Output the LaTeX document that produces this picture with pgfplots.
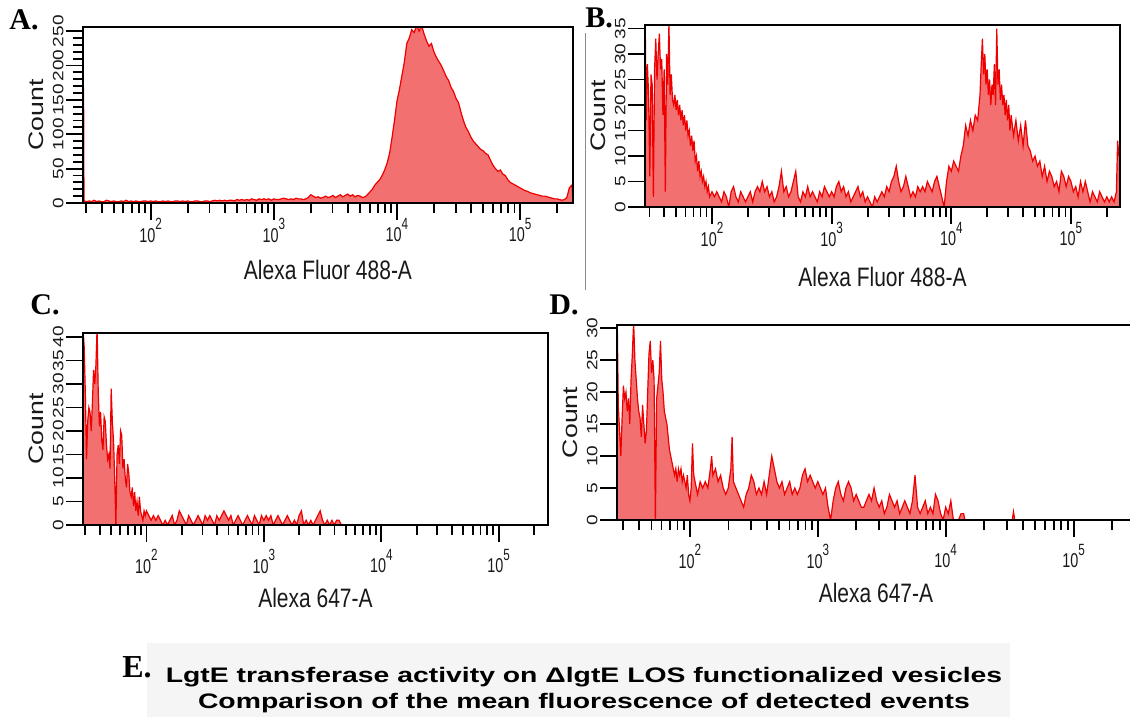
\documentclass[border=0pt]{standalone}
\usepackage{fontspec}
\setmainfont{Liberation Sans}
\newfontfamily\serifbold{Liberation Serif}
\usepackage{graphicx}
\usepackage{pgfplots}
\pgfplotsset{compat=1.18}

\definecolor{fillred}{RGB}{242,112,112}
\definecolor{linered}{RGB}{238,0,0}
\definecolor{axtext}{RGB}{25,25,25}

\newcommand{\vs}[1]{\scalebox{1}[1.27]{#1}}
\newcommand{\hs}[1]{\scalebox{1.27}[1]{#1}}
\newcommand{\tenp}[1]{\scalebox{0.9}[1.25]{10\raisebox{0.62em}{\fontsize{6.5}{7}\selectfont #1}}}

\pgfplotsset{
 flow/.style={
  scale only axis,
  axis on top,
  axis line style={black, line width=1.2pt},
  tick align=outside,
  xtick pos=bottom, ytick pos=left,
  major tick length=8.5pt, minor tick length=5pt,
  tick style={black, line width=0.9pt},
  xtick={2,3,4,5},
  xticklabels={\tenp{2},\tenp{3},\tenp{4},\tenp{5}},
  minor xtick={1.477,1.602,1.699,1.778,1.845,1.903,1.954,2.301,2.477,2.602,2.699,2.778,2.845,2.903,2.954,3.301,3.477,3.602,3.699,3.778,3.845,3.903,3.954,4.301,4.477,4.602,4.699,4.778,4.845,4.903,4.954,5.301,5.477},
  ymin=0,
  xticklabel style={font=\fontsize{8}{8}\selectfont, text=axtext, inner sep=0pt},
  xticklabel shift=-1pt,
  yticklabel style={font=\fontsize{7.5}{8}\selectfont, text=axtext, rotate=90, anchor=south, inner sep=1pt},
  yticklabel={\hs{\pgfmathprintnumber[assume math mode=true]{\tick}}},
  ylabel={\hs{Count}},
  label style={font=\fontsize{10.5}{12}\selectfont, text=axtext},
  scaled y ticks=false,
 },
 hist/.style={draw=linered, line width=0.6pt, fill=fillred},
}

\begin{document}
\begin{tikzpicture}
\useasboundingbox (0,0) rectangle (565pt,358.5pt);
\fill[black!4] (73.5pt,0) rectangle (505pt,37pt);
\draw[black!45, line width=0.5pt] (292.5pt,342pt) -- (292.5pt,213.5pt);

% ---------------- A ----------------
\begin{axis}[flow, at={(41.5pt,257pt)}, anchor=south west, width=245pt, height=88pt,
  xmin=1.45, xmax=5.43, ymax=256, ytick={0,50,...,250}, minor y tick num=4,
  xlabel shift=5.5pt,
  xlabel={\vs{Alexa Fluor 488-A}}]
\addplot[hist] coordinates {
(1.43,0)(1.452,182)(1.455,150)(1.458,4)(1.46,3)(1.48,2)(1.50,3)(1.52,2)(1.54,4)(1.56,2)(1.58,3)(1.60,2)(1.62,2)(1.64,4)(1.66,3)(1.68,2)(1.70,3)(1.72,2)(1.74,2)(1.76,3)(1.78,2)(1.80,4)(1.82,2)(1.84,3)(1.86,2)(1.88,3)(1.90,2)(1.92,2)(1.94,3)(1.96,3)(1.98,2)(2.00,3)(2.02,2)(2.04,3)(2.06,2)(2.08,2)(2.10,3)(2.12,2)(2.14,3)(2.16,2)(2.18,2)(2.20,3)(2.22,3)(2.24,2)(2.26,3)(2.28,2)(2.30,3)(2.32,2)(2.34,2)(2.36,3)(2.38,3)(2.40,2)(2.42,2)(2.44,3)(2.46,3)(2.48,2)(2.50,3)(2.52,4)(2.54,3)(2.56,4)(2.58,3)(2.60,4)(2.62,3)(2.64,4)(2.66,4)(2.68,3)(2.70,5)(2.72,4)(2.74,5)(2.76,4)(2.78,5)(2.80,4)(2.82,6)(2.84,5)(2.86,4)(2.88,6)(2.90,5)(2.92,6)(2.94,5)(2.96,6)(2.98,4)(3.00,6)(3.02,5)(3.04,5)(3.06,6)(3.08,7)(3.10,6)(3.12,5)(3.14,6)(3.16,5)(3.18,7)(3.20,6)(3.22,6)(3.24,5)(3.26,6)(3.28,8)(3.30,12)(3.32,10)(3.34,8)(3.36,9)(3.38,7)(3.40,8)(3.42,10)(3.44,8)(3.46,9)(3.48,11)(3.50,8)(3.52,10)(3.54,12)(3.56,9)(3.58,11)(3.60,13)(3.62,10)(3.64,12)(3.66,9)(3.68,11)(3.70,10)(3.72,8)(3.74,9)(3.76,12)(3.78,16)(3.80,20)(3.82,26)(3.84,30)(3.86,34)(3.88,40)(3.90,48)(3.92,58)(3.94,72)(3.96,95)(3.98,120)(4.00,148)(4.02,165)(4.04,185)(4.06,205)(4.08,232)(4.10,240)(4.12,252)(4.14,248)(4.16,258)(4.18,250)(4.20,258)(4.22,246)(4.24,236)(4.26,228)(4.28,232)(4.30,220)(4.32,212)(4.34,206)(4.36,200)(4.38,192)(4.40,184)(4.42,178)(4.44,168)(4.46,162)(4.48,152)(4.50,146)(4.52,132)(4.54,120)(4.56,110)(4.58,104)(4.60,96)(4.62,90)(4.64,86)(4.66,82)(4.68,78)(4.70,76)(4.72,72)(4.74,70)(4.76,62)(4.78,55)(4.80,50)(4.82,46)(4.84,48)(4.86,42)(4.88,40)(4.90,34)(4.92,30)(4.94,28)(4.96,26)(4.98,24)(5.00,22)(5.02,20)(5.04,18)(5.06,17)(5.08,15)(5.10,14)(5.12,13)(5.14,12)(5.16,11)(5.18,10)(5.20,10)(5.22,9)(5.24,8)(5.26,7)(5.28,6)(5.30,6)(5.32,5)(5.34,4)(5.36,5)(5.38,8)(5.40,22)(5.42,26)(5.43,10)
} \closedcycle;
\end{axis}

% ---------------- B ----------------
\begin{axis}[flow, at={(322.5pt,255pt)}, anchor=south west, width=237.5pt, height=91pt,
  xmin=1.44, xmax=5.41, ymax=35.7, ytick={0,5,...,35},
  xlabel shift=7pt,
  xlabel={\vs{Alexa Fluor 488-A}}]
\addplot[hist] coordinates {
(1.44,0)(1.442,36)(1.45,17)(1.46,28)(1.47,22)(1.48,6)(1.49,26)(1.50,24)(1.51,2)(1.52,27)(1.53,33)(1.54,25)(1.55,30)(1.56,34)(1.57,27)(1.58,29)(1.59,18)(1.60,27)(1.61,3)(1.62,30)(1.63,24)(1.64,36)(1.65,22)(1.66,26)(1.67,21)(1.68,20)(1.69,22)(1.70,19)(1.71,21)(1.72,18)(1.73,20)(1.74,17)(1.75,19)(1.76,16)(1.77,18)(1.78,15)(1.79,17)(1.80,14)(1.81,15)(1.82,12)(1.83,14)(1.84,11)(1.85,13)(1.86,9)(1.87,10)(1.88,7)(1.89,9)(1.90,6)(1.91,7)(1.92,5)(1.93,6)(1.94,4)(1.95,5)(1.96,3)(1.97,4)(1.98,2)(2.00,3)
(2.02,2)(2.04,3)(2.06,2)(2.08,1)(2.10,3)(2.12,2)(2.14,0)(2.16,3)(2.18,4)(2.20,2)(2.22,1)(2.24,3)(2.26,2)(2.28,1)(2.30,2)(2.32,3)(2.34,1)(2.36,3)(2.38,4)(2.40,3)(2.42,5)(2.44,3)(2.46,4)(2.48,2)(2.50,3)(2.52,1)(2.54,2)(2.56,4)(2.58,7)(2.60,3)(2.62,4)(2.64,2)(2.66,3)(2.68,5)(2.70,7)(2.72,2)(2.74,1)(2.76,3)(2.78,2)(2.80,4)(2.82,2)(2.84,3)(2.86,2)(2.88,1)(2.90,3)(2.92,2)(2.94,4)(2.96,3)(2.98,2)(3.00,3)(3.02,2)(3.04,4)(3.06,5)(3.08,3)(3.10,4)(3.12,2)(3.14,3)(3.16,1)(3.18,2)(3.20,3)(3.22,4)(3.24,2)(3.26,3)(3.28,1)(3.30,2)(3.32,1)(3.34,0)(3.36,2)(3.38,1)(3.40,2)(3.42,3)(3.44,2)(3.46,4)(3.48,3)(3.50,5)(3.52,6)(3.54,8)(3.56,5)(3.58,3)(3.60,4)(3.62,6)(3.64,4)(3.66,2)(3.68,3)(3.70,2)(3.72,4)(3.74,3)(3.76,4)(3.78,3)(3.80,5)(3.82,4)(3.84,3)(3.86,5)(3.88,6)(3.90,4)(3.92,2)(3.94,0)(3.96,5)(3.98,8)(4.00,7)(4.02,9)(4.04,8)(4.06,7)(4.08,10)(4.10,12)(4.12,16)(4.14,14)(4.16,17)(4.18,15)(4.20,18)(4.22,17)(4.24,22)(4.25,28)(4.26,33)(4.27,26)(4.28,30)(4.29,24)(4.30,27)(4.31,22)(4.32,25)(4.33,20)(4.34,24)(4.35,22)(4.36,28)(4.37,20)(4.38,35)(4.39,24)(4.40,27)(4.41,21)(4.42,24)(4.43,20)(4.44,22)(4.45,18)(4.46,21)(4.47,17)(4.48,20)(4.49,15)(4.50,18)(4.52,14)(4.54,17)(4.56,13)(4.58,16)(4.60,12)(4.62,17)(4.64,12)(4.66,11)(4.68,9)(4.70,10)(4.72,8)(4.74,9)(4.76,6)(4.78,8)(4.80,5)(4.82,7)(4.84,6)(4.86,4)(4.88,5)(4.90,3)(4.92,7)(4.94,6)(4.96,4)(4.98,6)(5.00,5)(5.02,3)(5.04,4)(5.06,2)(5.08,5)(5.10,3)(5.12,5)(5.14,3)(5.16,1)(5.18,3)(5.20,2)(5.22,1)(5.24,3)(5.26,2)(5.28,1)(5.30,2)(5.32,1)(5.34,2)(5.36,1)(5.38,3)(5.39,13)(5.40,10)(5.41,12)
} \closedcycle;
\end{axis}

% ---------------- C ----------------
\begin{axis}[flow, at={(41.5pt,96pt)}, anchor=south west, width=232.5pt, height=96pt,
  xmin=1.46, xmax=5.42, ymax=40.85, ytick={0,5,...,40},
  xticklabel shift=3.5pt, xlabel shift=4pt,
  xlabel={\vs{Alexa 647-A}}]
\addplot[hist] coordinates {
(1.46,0)(1.462,41)(1.47,38)(1.48,28)(1.49,14)(1.50,22)(1.51,25)(1.52,24)(1.53,20)(1.54,26)(1.55,33)(1.56,30)(1.57,34)(1.58,42)(1.59,28)(1.60,21)(1.61,24)(1.62,18)(1.63,16)(1.64,23)(1.65,22)(1.66,17)(1.67,14)(1.68,15)(1.69,12)(1.70,29)(1.71,22)(1.72,18)(1.73,10)(1.74,0)(1.75,15)(1.76,17)(1.77,13)(1.78,20)(1.79,19)(1.80,12)(1.81,14)(1.82,10)(1.83,8)(1.84,13)(1.85,11)(1.86,7)(1.87,6)(1.88,8)(1.89,4)(1.90,7)(1.91,3)(1.92,5)(1.93,2)(1.94,6)(1.95,3)(1.96,2)(1.97,1)(1.98,3)(1.99,2)(2.00,3)(2.02,2)(2.04,1)(2.06,2)(2.08,1)(2.10,2)(2.12,1)(2.14,0)(2.16,1)(2.18,0)(2.20,1)(2.22,2)(2.24,0)(2.26,1)(2.28,3)(2.30,2)(2.32,1)(2.34,0)(2.36,2)(2.38,1)(2.40,0)(2.42,1)(2.44,2)(2.46,1)(2.48,0)(2.50,2)(2.52,1)(2.54,2)(2.56,1)(2.58,0)(2.60,2)(2.62,1)(2.64,2)(2.66,3)(2.68,2)(2.70,1)(2.72,2)(2.74,0)(2.76,1)(2.78,2)(2.80,1)(2.82,0)(2.84,1)(2.86,2)(2.88,1)(2.90,0)(2.92,2)(2.94,1)(2.96,0)(2.98,2)(3.00,1)(3.02,2)(3.04,1)(3.06,2)(3.08,0)(3.10,1)(3.12,2)(3.14,1)(3.16,0)(3.18,1)(3.20,2)(3.22,1)(3.24,0)(3.26,1)(3.28,0)(3.30,2)(3.32,3)(3.34,0)(3.36,1)(3.38,0)(3.40,1)(3.42,0)(3.44,1)(3.46,2)(3.48,3)(3.50,1)(3.52,0)(3.54,1)(3.56,0)(3.58,1)(3.60,0)(3.62,1)(3.64,1)(3.66,0)(5.42,0)
} \closedcycle;
\end{axis}

% ---------------- D ----------------
\begin{axis}[flow, at={(308.5pt,98.5pt)}, anchor=south west, width=259pt, height=97.5pt,
  xmin=1.43, xmax=5.48, ymax=30.5, ytick={0,5,...,30},
  xticklabel shift=3.5pt, xlabel shift=4pt,
  xlabel={\vs{Alexa 647-A}}]
\addplot[hist] coordinates {
(1.43,0)(1.432,31)(1.44,18)(1.45,14)(1.46,10)(1.47,16)(1.48,21)(1.49,19)(1.50,20)(1.51,17)(1.52,19)(1.53,15)(1.54,22)(1.55,26)(1.56,31)(1.57,25)(1.58,22)(1.59,19)(1.60,17)(1.61,16)(1.62,13)(1.63,18)(1.64,15)(1.65,12)(1.66,14)(1.67,20)(1.68,26)(1.69,28)(1.70,23)(1.71,25)(1.72,22)(1.73,0)(1.74,19)(1.75,21)(1.76,23)(1.77,28)(1.78,22)(1.79,20)(1.80,17)(1.81,16)(1.82,15)(1.83,13)(1.84,11)(1.85,10)(1.86,9)(1.87,8)(1.88,7)(1.89,8)(1.90,6)(1.91,8)(1.92,7)(1.93,8)(1.94,6)(1.95,7)(1.96,6)(1.97,5)(1.98,7)(1.99,4)(2.00,3)(2.01,5)(2.02,12)(2.03,7)(2.04,6)(2.05,5)(2.06,4)(2.08,6)(2.10,5)(2.12,6)(2.14,5)(2.16,8)(2.17,10)(2.18,7)(2.20,8)(2.22,6)(2.24,7)(2.26,5)(2.28,4)(2.30,5)(2.32,8)(2.33,13)(2.34,6)(2.36,5)(2.38,4)(2.40,3)(2.42,2)(2.44,4)(2.46,5)(2.48,7)(2.50,6)(2.52,4)(2.54,5)(2.56,4)(2.58,6)(2.60,4)(2.62,7)(2.64,10)(2.66,8)(2.68,6)(2.70,5)(2.72,6)(2.74,4)(2.76,5)(2.78,6)(2.80,4)(2.82,5)(2.84,4)(2.86,5)(2.88,7)(2.90,8)(2.92,6)(2.94,7)(2.96,6)(2.98,5)(3.00,6)(3.02,5)(3.04,4)(3.06,5)(3.08,2)(3.10,0)(3.12,3)(3.14,5)(3.16,6)(3.18,4)(3.20,3)(3.22,5)(3.24,6)(3.26,5)(3.28,3)(3.30,4)(3.32,3)(3.34,2)(3.36,2)(3.38,3)(3.40,4)(3.42,3)(3.44,5)(3.46,3)(3.48,2)(3.50,3)(3.52,1)(3.54,2)(3.56,4)(3.58,3)(3.60,2)(3.62,3)(3.64,1)(3.66,2)(3.68,3)(3.70,2)(3.72,1)(3.74,3)(3.76,7)(3.78,2)(3.80,1)(3.82,2)(3.84,3)(3.86,1)(3.88,2)(3.90,1)(3.92,4)(3.94,3)(3.96,1)(3.98,0)(4.00,2)(4.02,1)(4.04,3)(4.06,0)(4.08,0)(4.10,0)(4.12,1)(4.14,1)(4.15,0)(4.52,0)(4.53,1.3)(4.54,0)(5.48,0)
} \closedcycle;
\end{axis}

% panel letters
\node[anchor=base west, inner sep=0pt, font=\serifbold\bfseries\fontsize{15}{15}\selectfont] at (4.5pt,343.5pt) {A.};
\node[anchor=base west, inner sep=0pt, font=\serifbold\bfseries\fontsize{15}{15}\selectfont] at (292.5pt,344.5pt) {B.};
\node[anchor=base west, inner sep=0pt, font=\serifbold\bfseries\fontsize{15}{15}\selectfont] at (15pt,201pt) {C.};
\node[anchor=base west, inner sep=0pt, font=\serifbold\bfseries\fontsize{15}{15}\selectfont] at (274.5pt,201pt) {D.};
\node[anchor=base west, inner sep=0pt, font=\serifbold\bfseries\fontsize{16}{16}\selectfont] at (61pt,19.5pt) {E.};

% caption
\node[anchor=base, inner sep=0pt, font=\bfseries\fontsize{10.5}{12}\selectfont] at (292pt,17pt) {\scalebox{1.35}[1]{LgtE transferase activity on ΔlgtE LOS functionalized vesicles}};
\node[anchor=base, inner sep=0pt, font=\bfseries\fontsize{10.5}{12}\selectfont] at (292pt,4pt) {\scalebox{1.35}[1]{Comparison of the mean fluorescence of detected events}};
\end{tikzpicture}
\end{document}
